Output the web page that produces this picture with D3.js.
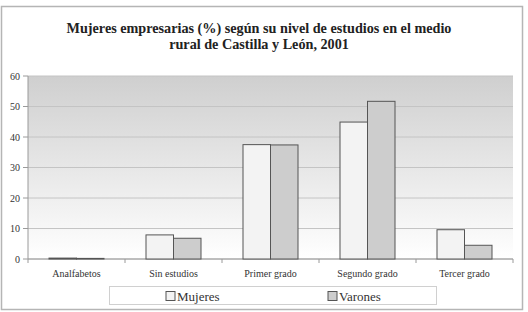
<!DOCTYPE html>
<html><head>
<script src="https://d3js.org/d3.v7.min.js"></script>
</head>
<body style="margin:0">
<svg id="chart" width="528" height="312"></svg>
<script>
// data
const categories = ["Analfabetos", "Sin estudios", "Primer grado", "Segundo grado", "Tercer grado"];
const series = ["Mujeres", "Varones"];
const mujeres = [0.3, 7.9, 37.5, 44.9, 9.6];
const varones = [0.2, 6.8, 37.4, 51.7, 4.5];
const yTicks = [0, 10, 20, 30, 40, 50, 60];
const titleLines = ["Mujeres empresarias (%) según su nivel de estudios en el medio",
                    "rural de Castilla y León, 2001"];

const svg = d3.select("svg#chart");
const margins = {top: 76, right: 15, bottom: 53, left: 28};
const width = 528, height = 312;
const plotW = width - margins.left - margins.right;
const plotH = height - margins.top - margins.bottom;
const fills = {Mujeres: "#f3f3f3", Varones: "#cdcdcd"};
const serif = '"Liberation Serif"';

// outer frame
svg.append("rect")
   .attr("x", 1.5).attr("y", 6.5)
   .attr("width", 521).attr("height", 303)
   .style("fill", "#fff")
   .style("stroke", "#b5b5b5")
   .style("stroke-width", 1.5);

// title
titleLines.forEach((t, i) => {
  svg.append("text")
     .attr("x", 259).attr("y", 33 + i * 16)
     .attr("text-anchor", "middle")
     .style("font-family", serif)
     .style("font-size", "14.2px")
     .style("font-weight", "bold")
     .style("fill", "#222")
     .text(t);
});

// gradient background of the plot
const defs = svg.append("defs");
const grad = defs.append("linearGradient")
   .attr("id", "bg").attr("x1", 0).attr("y1", 0).attr("x2", 0).attr("y2", 1);
grad.append("stop").attr("offset", "0%").attr("stop-color", "#cfcfcf");
grad.append("stop").attr("offset", "100%").attr("stop-color", "#ffffff");

const g = svg.append("g").attr("transform", `translate(${margins.left},${margins.top})`);

let xScale = d3.scaleBand().domain(categories).range([0, plotW]);
let subScale = d3.scaleBand().domain(series).range([0, 55]);
let yScale = d3.scaleLinear().domain([0, 60]).range([plotH, 0]);

g.append("rect")
 .attr("x", 0).attr("y", 0)
 .attr("width", plotW).attr("height", plotH)
 .style("fill", "url(#bg)");

// gridlines
yTicks.forEach(v => {
  g.append("line")
   .attr("x1", 0).attr("x2", plotW)
   .attr("y1", yScale(v)).attr("y2", yScale(v))
   .style("stroke", "#c4c4c4");
});

// y axis
g.append("line")
 .attr("x1", 0).attr("x2", 0).attr("y1", 0).attr("y2", plotH)
 .style("stroke", "#9a9a9a");
yTicks.forEach(v => {
  g.append("line")
   .attr("x1", -5).attr("x2", 0)
   .attr("y1", yScale(v)).attr("y2", yScale(v))
   .style("stroke", "#9a9a9a");
  g.append("text")
   .attr("x", -8).attr("y", yScale(v) + 3.5)
   .attr("text-anchor", "end")
   .style("font-family", serif)
   .style("font-size", "10px")
   .style("fill", "#333")
   .text(v);
});

// x axis
g.append("line")
 .attr("x1", 0).attr("x2", plotW).attr("y1", plotH).attr("y2", plotH)
 .style("stroke", "#9a9a9a");
categories.forEach((c, i) => {
  g.append("line")
   .attr("x1", xScale(c)).attr("x2", xScale(c))
   .attr("y1", plotH).attr("y2", plotH + 4)
   .style("stroke", "#9a9a9a");
  g.append("text")
   .attr("x", xScale(c) + xScale.bandwidth() / 2)
   .attr("y", plotH + 18)
   .attr("text-anchor", "middle")
   .style("font-family", serif)
   .style("font-size", "10px")
   .style("fill", "#333")
   .text(c);
});
g.append("line")
 .attr("x1", plotW).attr("x2", plotW).attr("y1", plotH).attr("y2", plotH + 4)
 .style("stroke", "#9a9a9a");

// bars
categories.forEach((c, i) => {
  const vals = {Mujeres: mujeres[i], Varones: varones[i]};
  const x0 = xScale(c) + xScale.bandwidth() / 2 - 27.5;
  series.forEach(s => {
    g.append("rect")
     .attr("x", x0 + subScale(s))
     .attr("y", yScale(vals[s]))
     .attr("width", subScale.bandwidth())
     .attr("height", plotH - yScale(vals[s]))
     .style("fill", fills[s])
     .style("stroke", "#555");
  });
});

// legend
svg.append("rect")
   .attr("x", 109.5).attr("y", 286.5)
   .attr("width", 327).attr("height", 18)
   .style("fill", "#fff")
   .style("stroke", "#d0d0d0");
const legendX = [166, 328];
series.forEach((s, i) => {
  svg.append("rect")
     .attr("x", legendX[i]).attr("y", 291.5)
     .attr("width", 9).attr("height", 9)
     .style("fill", fills[s])
     .style("stroke", "#555");
  svg.append("text")
     .attr("x", legendX[i] + 11).attr("y", 301)
     .style("font-family", serif)
     .style("font-size", "13px")
     .style("fill", "#333")
     .text(s);
});
</script>
</body>
</html>
